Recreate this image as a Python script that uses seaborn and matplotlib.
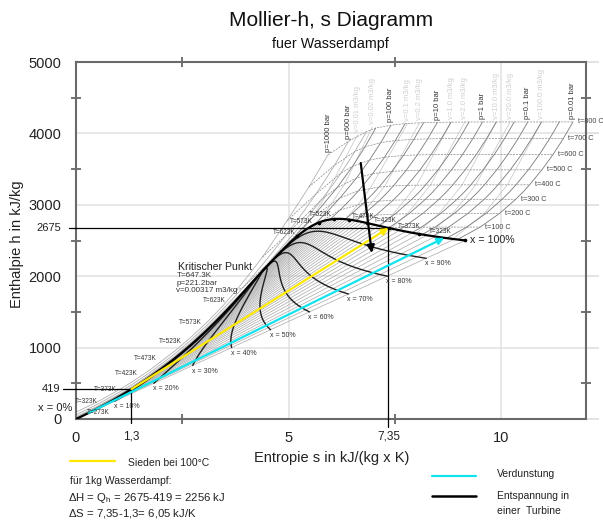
import numpy as np
import pandas as pd
import matplotlib
matplotlib.use("Agg")
import matplotlib.pyplot as plt
from matplotlib.lines import Line2D
import seaborn as sns

nan = np.nan

# Saettigungstabelle Wasser (T in C, h in kJ/kg, s in kJ/(kg K))
SAT_T = [0.01, 10, 20, 30, 40, 50, 60, 70, 80, 90, 100, 110, 120, 130, 140, 150, 160, 170, 180, 190,
         200, 210, 220, 230, 240, 250, 260, 270, 280, 290, 300, 310, 320, 330, 340, 350, 360, 370, 373.95]
SAT_HF = [0.0, 42.0, 83.9, 125.7, 167.5, 209.3, 251.2, 293.1, 335.0, 377.0, 419.2, 461.4, 503.8, 546.4,
          589.2, 632.2, 675.5, 719.1, 763.1, 807.4, 852.3, 897.6, 943.6, 990.1, 1037.5, 1085.7, 1135.0,
          1185.3, 1236.9, 1290.0, 1344.8, 1402.0, 1462.2, 1526.2, 1594.5, 1670.9, 1761.7, 1890.7, 2084.3]
SAT_HG = [2500.9, 2519.2, 2537.4, 2555.6, 2573.5, 2591.3, 2608.8, 2626.1, 2643.0, 2659.6, 2675.6, 2691.1,
          2705.9, 2720.1, 2733.5, 2745.9, 2757.4, 2767.9, 2777.2, 2785.3, 2792.0, 2797.3, 2801.1, 2803.1,
          2803.0, 2800.9, 2796.6, 2789.7, 2779.9, 2766.7, 2749.6, 2727.9, 2700.6, 2666.0, 2621.8, 2563.6,
          2481.5, 2332.5, 2084.3]
SAT_SF = [0.0, 0.1511, 0.2965, 0.4368, 0.5724, 0.7038, 0.8313, 0.9551, 1.0756, 1.1929, 1.3072, 1.4188,
          1.5279, 1.6346, 1.7392, 1.8418, 1.9426, 2.0417, 2.1392, 2.2355, 2.3305, 2.4245, 2.5177, 2.6101,
          2.7020, 2.7935, 2.8849, 2.9765, 3.0685, 3.1612, 3.2552, 3.3510, 3.4494, 3.5518, 3.6601, 3.7784,
          3.9167, 4.1112, 4.4070]
SAT_SG = [9.1556, 8.8999, 8.6661, 8.4520, 8.2557, 8.0748, 7.9082, 7.7540, 7.6111, 7.4781, 7.3541, 7.2381,
          7.1291, 7.0264, 6.9293, 6.8371, 6.7491, 6.6650, 6.5840, 6.5059, 6.4302, 6.3563, 6.2840, 6.2128,
          6.1423, 6.0721, 6.0016, 5.9304, 5.8579, 5.7834, 5.7059, 5.6244, 5.5372, 5.4422, 5.3356, 5.2110,
          5.0536, 4.8012, 4.4070]

# Dampfgehalt-Linien
QUALITY = [0.1, 0.2, 0.3, 0.4, 0.5, 0.6, 0.7, 0.8, 0.9]

# ueberhitzter Dampf: Druecke in bar, Temperaturen in C
SH_P = [0.01, 0.02, 0.05, 0.1, 0.2, 0.5, 1, 2, 5, 10, 20, 50, 100, 200, 300, 600, 1000]
SH_T = [100, 200, 300, 350, 400, 500, 600, 700, 800]
SH_H = [
    [2688, 2880, 3077, 3178, 3280, 3490, 3706, 3930, 4161],
    [2688, 2880, 3077, 3178, 3280, 3490, 3706, 3930, 4161],
    [2688, 2880, 3077, 3178, 3280, 3490, 3706, 3930, 4160],
    [2687.5, 2879.6, 3076.7, 3177.9, 3279.9, 3489.7, 3706.3, 3929.9, 4160.6],
    [2686.5, 2879.2, 3076.4, 3177.7, 3279.7, 3489.5, 3706.2, 3929.8, 4160.5],
    [2682.4, 2877.7, 3075.8, 3177.1, 3279.3, 3489.3, 3706.0, 3929.6, 4160.3],
    [2675.8, 2875.5, 3074.5, 3176.3, 3278.6, 3488.7, 3705.6, 3929.4, 4159.8],
    [nan, 2870.7, 3072.1, 3174.4, 3277.0, 3487.7, 3704.8, 3928.8, 4159.3],
    [nan, 2855.8, 3064.6, 3168.1, 3272.4, 3484.5, 3702.5, 3927.0, 4157.8],
    [nan, 2828.3, 3051.6, 3158.2, 3264.5, 3479.1, 3698.6, 3923.4, 4154.9],
    [nan, nan, 3024.2, 3137.7, 3248.4, 3468.3, 3690.7, 3917.5, 4150.2],
    [nan, nan, 2925.7, 3069.3, 3196.7, 3434.7, 3666.9, 3900.3, 4137.7],
    [nan, nan, nan, 2924.0, 3097.5, 3375.1, 3625.8, 3870.0, 4114.5],
    [nan, nan, nan, nan, 2816.9, 3241.2, 3539.0, 3810.6, 4075.1],
    [nan, nan, nan, nan, 2151.1, 3081.1, 3443.9, 3745.6, 4024.2],
    [nan, nan, nan, nan, 1843.4, 2567.9, 3151.2, 3553.5, 3889.1],
    [nan, nan, nan, nan, 1800, 2270, 2780, 3250, 3700],
]
SH_S = [
    [9.512, 9.968, 10.345, 10.518, 10.672, 10.963, 11.226, 11.468, 11.694],
    [9.192, 9.648, 10.025, 10.198, 10.352, 10.643, 10.906, 11.148, 11.374],
    [8.769, 9.225, 9.603, 9.775, 9.929, 10.220, 10.483, 10.725, 10.951],
    [8.4489, 8.9049, 9.2827, 9.455, 9.6094, 9.8998, 10.1631, 10.4056, 10.6312],
    [8.126, 8.585, 8.963, 9.135, 9.290, 9.580, 9.843, 10.086, 10.311],
    [7.6953, 8.1592, 8.5380, 8.711, 8.8655, 9.1566, 9.4201, 9.6626, 9.8883],
    [7.3611, 7.8356, 8.2158, 8.389, 8.5435, 8.8342, 9.0976, 9.3398, 9.5652],
    [nan, 7.5081, 7.8941, 8.068, 8.2236, 8.5153, 8.7793, 9.0221, 9.2479],
    [nan, 7.0610, 7.4614, 7.6346, 7.7956, 8.0893, 8.3544, 8.5978, 8.8240],
    [nan, 6.6956, 7.1246, 7.3029, 7.4670, 7.7642, 8.0311, 8.2755, 8.5024],
    [nan, nan, 6.7684, 6.9583, 7.1292, 7.4337, 7.7043, 7.9509, 8.1791],
    [nan, nan, 6.2109, 6.4515, 6.6483, 6.9781, 7.2605, 7.5136, 7.7458],
    [nan, nan, nan, 5.9458, 6.2141, 6.5995, 6.9045, 7.1700, 7.4107],
    [nan, nan, nan, nan, 5.5525, 6.1446, 6.5075, 6.7990, 7.0531],
    [nan, nan, nan, nan, 4.4728, 5.7905, 6.2331, 6.5606, 6.8332],
    [nan, nan, nan, nan, 3.9316, 4.9321, 5.6452, 6.0824, 6.4109],
    [nan, nan, nan, nan, 3.77, 4.39, 4.97, 5.48, 5.93],
]
# Saettigungspunkte der unterkritischen Isobaren (0.01 ... 200 bar)
PS_HG = [2513.7, 2532.9, 2560.7, 2583.9, 2608.9, 2645.2, 2675.0, 2706.2, 2748.1, 2777.1, 2798.3, 2794.2,
         2725.5, 2412.3]
PS_SG = [8.9749, 8.7227, 8.3938, 8.1488, 7.9073, 7.5931, 7.3589, 7.1270, 6.8207, 6.5850, 6.3390, 5.9737,
         5.6159, 4.9314]

# Hochdruck-Isobaren (Fluessigkeit / ueberkritisch)
HP_P = [100, 200, 300, 600, 1000]
HP_S = [
    [0.0, 1.3072, 2.3305, 3.0685, 3.3603],
    [0.0, 0.5724, 1.3072, 2.3305, 3.0685, 3.4494, 4.0146],
    [0.0, 0.5724, 1.0756, 1.3072, 1.7392, 2.3305, 2.7020, 3.0685, 3.4494, 3.9305, 4.4728, 5.1504, 5.4424,
     5.7905, 6.0342, 6.2331, 6.4058, 6.5606, 6.8332],
    [0.0, 0.5724, 1.0756, 1.3072, 1.7392, 2.3305, 2.7020, 3.0685, 3.4494, 3.7141, 3.9316, 4.1627, 4.4121,
     4.9321, 5.3441, 5.6452, 5.8829, 6.0824, 6.4109],
    [0.0, 0.5724, 1.0756, 1.3072, 1.7392, 2.3305, 2.7020, 3.0685, 3.4494, 3.77, 4.08, 4.39, 4.97, 5.48, 5.93],
]
HP_H = [
    [10, 429, 861, 1243, 1407.9],
    [20, 187, 439, 871, 1253, 1475, 1826.6],
    [30, 198, 366, 450, 620, 884, 1071, 1272, 1496, 1791.5, 2151.1, 2614.2, 2821.4, 3081.1, 3275.4, 3443.9,
     3598.9, 3745.6, 4024.2],
    [58, 226, 395, 480, 651, 916, 1104, 1305, 1534, 1699.5, 1843.4, 2001.7, 2179.0, 2567.9, 2896.2, 3151.2,
     3364.5, 3553.5, 3889.1],
    [95, 262, 431, 516, 688, 955, 1144, 1347, 1580, 1800, 2030, 2270, 2780, 3250, 3700],
]

# Isochoren (m3/kg)
ISO_V = ["0.01", "0.02", "0.1", "0.2", "1.0", "2.0", "10.0", "20.0", "100.0"]
ISO_V_S = [[5.286, 5.5525, 5.87, 6.12, 6.62], [5.665, 6.04, 6.33, 6.97], [6.339, 6.646, 6.9235, 7.80],
           [6.592, 6.66, 7.264, 8.08], [7.166, 7.468, 8.021, 8.829], [7.414, 7.796, 8.341, 9.147],
           [8.008, 8.545, 9.086, 9.893], [8.265, 8.865, 9.406, 10.213], [8.869, 9.608, 10.149, 10.956]]
ISO_V_H = [[2598, 2817, 3120, 3410, 3975], [2739, 3040, 3300, 4088], [2798, 3009.6, 3231.7, 4138],
           [2776, 2824, 3257, 4148], [2701, 2873, 3277, 4158], [2668, 2874, 3278, 4159],
           [2598, 2879, 3280, 4160], [2573, 2880, 3280, 4160], [2521, 2880, 3280, 4160]]

ISO_T = [100, 200, 300, 400, 500, 600, 700, 800]
P_LABELS = [0.01, 0.1, 1, 10, 100, 600, 1000]
T_MARKS = [50, 100, 150, 200, 250, 300, 350]

# Prozess: Sieden bei 100 C, Verdunstung bei 20 C, Entspannung in der Turbine
BOIL_T = 100
EVAP_T = 20
TURB_S = [6.70, 6.96]
TURB_H = [3585, 2325]
H_LIQ, H_VAP = 419, 2675
S_LIQ, S_VAP = 1.3, 7.35

sns.set_theme(style="white")
plt.rcParams["font.family"] = ["Liberation Sans", "DejaVu Sans"]
plt.rcParams["mathtext.fontset"] = "custom"
plt.rcParams["mathtext.rm"] = "Liberation Sans"
plt.rcParams["mathtext.it"] = "Liberation Sans"

W, H = 603, 521
fig = plt.figure(figsize=(W / 100, H / 100), dpi=100)
L, R, T, B = 76, 586, 62, 419
ax = fig.add_axes([L / W, 1 - B / H, (R - L) / W, (B - T) / H])
ax.set_xlim(0, 12)
ax.set_ylim(0, 5000)


def fx(px):
    return px / W


def fy(py):
    return 1 - py / H


# --- Linien sammeln ---
rows = []


def add(kind, key, s, h):
    for a, b in zip(s, h):
        if not (np.isnan(a) or np.isnan(b)):
            rows.append((kind, key, a, b))


for i in range(len(SAT_T) - 1):
    add("wet", i, [SAT_SF[i], SAT_SG[i]], [SAT_HF[i], SAT_HG[i]])

for i, p in enumerate(HP_P):
    add("hp", p, HP_S[i], HP_H[i])

for i, hg in enumerate(PS_HG):
    add("bar", SH_P[i], [PS_SG[i]] + SH_S[i], [hg] + SH_H[i])

for t in ISO_T:
    j = SH_T.index(t)
    ss, hh = [], []
    if t < 374:
        k = SAT_T.index(t)
        ss.append(SAT_SG[k])
        hh.append(SAT_HG[k])
    for r in range(len(SH_P) - 1, -1, -1):
        ss.append(SH_S[r][j])
        hh.append(SH_H[r][j])
    add("therm", t, ss, hh)

for i, v in enumerate(ISO_V):
    add("chor", v, ISO_V_S[i], ISO_V_H[i])

sf = np.array(SAT_SF)
sg = np.array(SAT_SG)
hf = np.array(SAT_HF)
hg = np.array(SAT_HG)
for x in QUALITY:
    add("qual", x, sf + x * (sg - sf), hf + x * (hg - hf))

add("sat", "liq", SAT_SF, SAT_HF)
add("sat", "vap", SAT_SG, SAT_HG)

df = pd.DataFrame(rows, columns=["kind", "line", "s", "h"])

styles = {
    "chor": dict(color="#c4c4c4", lw=0.5, zorder=2),
    "wet": dict(color="#a8a8a8", lw=0.5, zorder=2),
    "hp": dict(color="#b0b0b0", lw=0.6, zorder=2),
    "bar": dict(color="#7a7a7a", lw=0.6, zorder=3),
    "therm": dict(color="#8a8a8a", lw=0.5, zorder=3, linestyle=(0, (3, 1.5))),
    "qual": dict(color="#202020", lw=1.0, zorder=5),
    "sat": dict(color="black", lw=1.6, zorder=6),
}
for kind, kw in styles.items():
    sns.lineplot(data=df[df.kind == kind], x="s", y="h", units="line", estimator=None, sort=False,
                 legend=False, ax=ax, **kw)

# Punkte auf der Taulinie
idx = [SAT_T.index(t) for t in T_MARKS] + [0]
sns.scatterplot(x=sg[idx], y=hg[idx], color="black", s=7, linewidth=0, ax=ax, zorder=7)

# --- Prozesspfeile ---
kb = SAT_T.index(BOIL_T)
ax.annotate("", xy=(sg[kb], hg[kb]), xytext=(sf[kb], hf[kb]),
            arrowprops=dict(arrowstyle="-|>", color="#ffe800", lw=1.6, mutation_scale=10,
                            shrinkA=0, shrinkB=0), zorder=8)
ke = SAT_T.index(EVAP_T)
ax.annotate("", xy=(sg[ke], hg[ke]), xytext=(sf[ke], hf[ke]),
            arrowprops=dict(arrowstyle="-|>", color="#12e4ee", lw=1.6, mutation_scale=10,
                            shrinkA=0, shrinkB=0), zorder=8)
ax.annotate("", xy=(TURB_S[1], TURB_H[1]), xytext=(TURB_S[0], TURB_H[0]),
            arrowprops=dict(arrowstyle="-|>", color="black", lw=1.6, mutation_scale=11,
                            shrinkA=0, shrinkB=0), zorder=9)

# Hilfslinien 2675 / 419
ax.plot([-0.165, S_VAP], [H_VAP, H_VAP], color="black", lw=0.9, clip_on=False, zorder=7)
ax.plot([S_VAP, S_VAP], [H_VAP, -110], color="black", lw=0.9, clip_on=False, zorder=7)
ax.plot([-0.31, S_LIQ], [H_LIQ, H_LIQ], color="black", lw=0.9, clip_on=False, zorder=7)
ax.plot([S_LIQ, S_LIQ], [H_LIQ, -55], color="black", lw=0.9, clip_on=False, zorder=7)

# --- Beschriftungen ---
small = dict(fontsize=5, color="#333333", zorder=10)
for x in QUALITY:
    ax.annotate(f"x = {int(round(x * 100))}%", (sf[0] + x * (sg[0] - sf[0]), hf[0] + x * (hg[0] - hf[0])),
                xytext=(-0.7, -1.5), textcoords="offset points", ha="left", va="top", **small)
ax.annotate("x = 100%", (sg[0], hg[0]), xytext=(3.6, 0), textcoords="offset points",
            ha="left", va="center", fontsize=7.7, color="#222222")
ax.text(-0.09, 154, "x = 0%", ha="right", va="center", fontsize=8, color="#222222", clip_on=False)

# Temperatur-Beschriftungen (Versatz in Pixel)
liq_off = {50: (-8, 3), 100: (-15, 0), 150: (-17, 0), 200: (-18, 0), 250: (-13, 0), 300: (-13, 0),
           350: (-11, -1)}
vap_off = {50: (10, 2), 100: (9, 1), 150: (7, 2), 200: (3, 3), 250: (-2, 5), 300: (-6, 1), 350: (-2, 3)}
tl = dict(fontsize=4.7, color="#333333", zorder=10, textcoords="offset points", va="center")
for t in T_MARKS:
    k = SAT_T.index(t)
    lab = f"T={t + 273}K"
    dx, dy = liq_off[t]
    ax.annotate(lab, (sf[k], hf[k]), xytext=(dx * 0.72, dy * 0.72), ha="right", **tl)
    dx, dy = vap_off[t]
    ax.annotate(lab, (sg[k], hg[k]), xytext=(dx * 0.72, dy * 0.72), ha="right" if dx < 0 else "left", **tl)
ax.annotate("T=273K", (0, 0), xytext=(11 * 0.72, 6 * 0.72), ha="left", **tl)

for p in P_LABELS:
    i = SH_P.index(p)
    ax.annotate(f"p={p} bar", (SH_S[i][-1], SH_H[i][-1]), xytext=(0, 2), textcoords="offset points",
                rotation=90, ha="center", va="bottom", fontsize=5.5, color="#333333")
for i, v in enumerate(ISO_V):
    ax.annotate(f"v={v} m3/kg", (ISO_V_S[i][-1], ISO_V_H[i][-1]), xytext=(0, 2), textcoords="offset points",
                rotation=90, ha="center", va="bottom", fontsize=5.5, color="#cfcfcf")
for t in ISO_T:
    j = SH_T.index(t)
    ax.annotate(f"t={t} C", (SH_S[0][j], SH_H[0][j]), xytext=(3.6, 0), textcoords="offset points",
                ha="left", va="center", fontsize=5.2, color="#444444", annotation_clip=False)

ax.text(2.41, 2129, "Kritischer Punkt", fontsize=7.6, color="#222222", va="center")
for k, line in enumerate(["T=647.3K", "p=221.2bar", "v=0.00317 m3/kg"]):
    ax.text(2.36, 2003 - k * 105, line, fontsize=5.8, color="#333333", va="center")

# --- Achsen ---
ax.set_xlabel("")
ax.set_ylabel("")
ax.set_xticks([0, 5, 10])
ax.set_xticklabels(["0", "5", "10"])
ax.set_yticks([0, 1000, 2000, 3000, 4000, 5000])
ax.set_xticks([2.5, 7.5], minor=True)
ax.set_yticks([500, 1500, 2500, 3500, 4500], minor=True)
ax.grid(True, which="major", color="#e4e4e4", lw=1.2, zorder=0)
ax.set_axisbelow(True)
ax.tick_params(which="major", direction="out", length=9.4, width=1.2, color="#dedede",
               labelsize=10.5, labelcolor="#222222", pad=1.2, top=True, right=True)
ax.tick_params(axis="x", which="major", length=0, pad=9)
ax.tick_params(which="minor", direction="inout", length=7, width=1.2, color="#5a5a5a",
               top=True, right=True, left=True, bottom=True)
for sp in ax.spines.values():
    sp.set_color("#6a6a6a")
    sp.set_linewidth(1.5)

xt = ax.get_xaxis_transform()
ax.text(S_LIQ, -0.05, "1,3", transform=xt, ha="center", va="center", fontsize=8.5, color="#222222")
ax.text(S_VAP, -0.05, "7,35", transform=xt, ha="center", va="center", fontsize=8.5, color="#222222")
yt = ax.get_yaxis_transform()
ax.text(-0.029, H_VAP, "2675", transform=yt, ha="right", va="center", fontsize=8, color="#222222")
ax.text(-0.031, H_LIQ, "419", transform=yt, ha="right", va="center", fontsize=8, color="#222222")

# --- Titel / Achsentitel ---
fig.text(fx(331), fy(20), "Mollier-h, s Diagramm", ha="center", va="center", fontsize=15, color="#111111")
fig.text(fx(330), fy(44), "fuer Wasserdampf", ha="center", va="center", fontsize=10.3, color="#111111")
fig.text(fx(17), fy(244), "Enthalpie h in kJ/kg", rotation=90, ha="center", va="center", fontsize=10.5,
         color="#222222")
fig.text(fx(332), fy(458), "Entropie s in kJ/(kg x K)", ha="center", va="center", fontsize=10.5,
         color="#222222")

# --- Legende / Erklaerung unten ---
fig.add_artist(Line2D([fx(70), fx(115)], [fy(461), fy(461)], color="#ffe800", lw=1.6))
fig.text(fx(128), fy(463), "Sieden bei 100°C", va="center", fontsize=7.5, color="#222222")
fig.add_artist(Line2D([fx(432), fx(476)], [fy(476), fy(476)], color="#12e4ee", lw=1.6))
fig.text(fx(497), fy(474), "Verdunstung", va="center", fontsize=7.5, color="#222222")
fig.add_artist(Line2D([fx(432), fx(476)], [fy(496), fy(496)], color="black", lw=1.8))
fig.text(fx(497), fy(496), "Entspannung in", va="center", fontsize=7.5, color="#222222")
fig.text(fx(497), fy(511), "einer  Turbine", va="center", fontsize=7.5, color="#222222")
fig.text(fx(70), fy(481), "für 1kg Wasserdampf:", va="center", fontsize=7.5, color="#222222")
fig.text(fx(68), fy(498), r"$\Delta$H = Q$_{\rm h}$ = 2675-419 = 2256 kJ", va="center", fontsize=8.2,
         color="#222222")
fig.text(fx(68), fy(514), r"$\Delta$S = 7,35-1,3= 6,05 kJ/K", va="center", fontsize=8.2, color="#222222")

fig.savefig("out.png", dpi=100)
